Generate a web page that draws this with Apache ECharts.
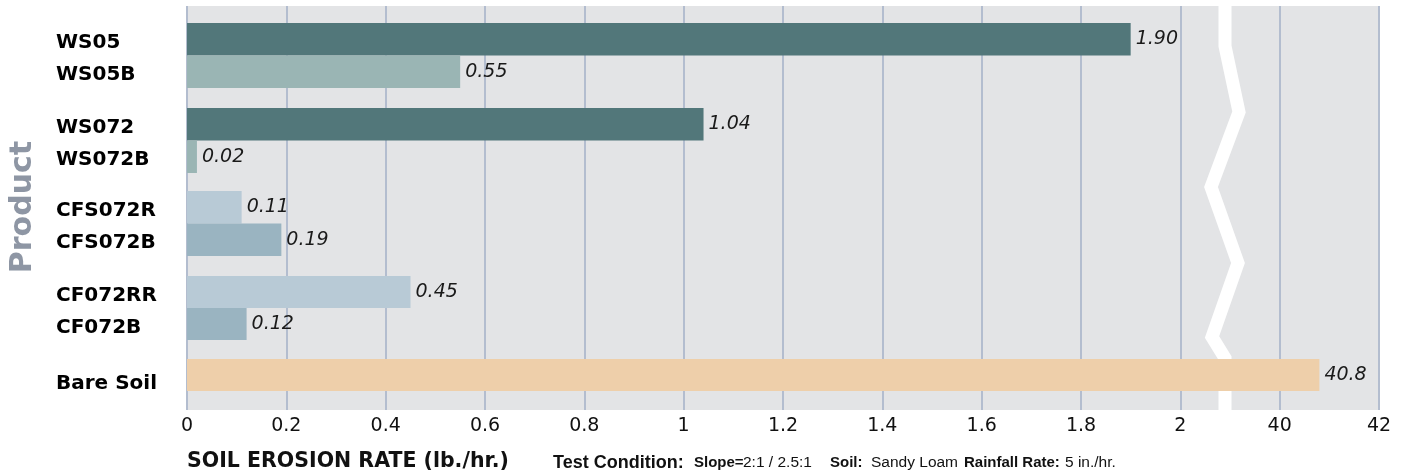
<!DOCTYPE html>
<html>
<head>
<meta charset="utf-8">
<script src="https://cdn.jsdelivr.net/npm/echarts@6/dist/echarts.min.js"></script>
<style>
  html, body { margin: 0; padding: 0; background: #ffffff; }
  #chart { width: 1405px; height: 472px; }
</style>
</head>
<body>
<div id="chart"></div>
<script>
// ---------------- DATA ----------------
const categories = ['WS05', 'WS05B', 'WS072', 'WS072B', 'CFS072R', 'CFS072B', 'CF072RR', 'CF072B', 'Bare Soil'];
const erosionRates = [1.90, 0.55, 1.04, 0.02, 0.11, 0.19, 0.45, 0.12, 40.8];
const groupIndex = [0, 0, 1, 1, 2, 2, 3, 3, 4];
const xTickLabels = ['0', '0.2', '0.4', '0.6', '0.8', '1', '1.2', '1.4', '1.6', '1.8', '2', '40', '42'];
const xAxisTitle = 'SOIL EROSION RATE (lb./hr.)';
const yAxisTitle = 'Product';
const testConditionParts = [
  ['Test Condition:', 'big'], ['Slope=', 'b'], ['2:1 / 2.5:1', 'n'], ['Soil:', 'b'],
  ['Sandy Loam', 'n'], ['Rainfall Rate:', 'b'], ['5 in./hr.', 'n']
];

// ---------------- STYLE ----------------
const barColors = ['#52777a', '#9ab5b4', '#52777a', '#9ab5b4', '#b8cad6', '#9ab4c1', '#b8cad6', '#9ab4c1', '#eecfaa'];
const groupLayout = [
  { top: 23, height: 65 },
  { top: 108, height: 65 },
  { top: 191, height: 65 },
  { top: 276, height: 64 },
  { top: 359, height: 32 }
];
const testConditionX = [553, 694, 743, 830, 871, 964, 1065];
const FONT = '"DejaVu Sans", Verdana, sans-serif';
const NARROW = '"Liberation Sans", Arial, sans-serif';
const PLOT_LEFT = 187, PLOT_RIGHT = 1405 - 1379, PLOT_TOP = 6, PLOT_BOTTOM = 472 - 410;
const partFont = {
  big: 'bold 18px ' + NARROW,
  b: 'bold 15px ' + NARROW,
  n: '15.5px ' + NARROW
};

// Broken axis: [0, 2] is linear, then the segment [40, 42] is drawn in place of [2.2, 2.4]
function toAxis(v) { return v <= 2 ? v : 2.2 + (v - 40) * 0.1; }
function fmtValue(v) { return v >= 10 ? v.toFixed(1) : v.toFixed(2); }

const grids = [{ left: PLOT_LEFT, right: PLOT_RIGHT, top: PLOT_TOP, bottom: PLOT_BOTTOM,
  containLabel: false, outerBoundsMode: 'none',
  show: true, backgroundColor: '#e3e4e6', borderWidth: 0 }];
const xAxes = [{
  gridIndex: 0, type: 'value', min: 0, max: 2.4, interval: 0.2,
  axisLine: { show: false }, axisTick: { show: false },
  splitLine: { show: true, lineStyle: { color: '#b3bdcf', width: 2 } },
  axisLabel: {
    color: '#111', fontSize: 19, fontFamily: FONT, margin: 7,
    formatter: (v, i) => xTickLabels[Math.round(v / 0.2)] ?? ''
  }
}];
const yAxes = [{ gridIndex: 0, type: 'value', show: false }];
const series = [];

groupLayout.forEach((g, gi) => {
  const idx = [];
  groupIndex.forEach((k, i) => { if (k === gi) idx.push(i); });
  grids.push({ left: PLOT_LEFT, right: PLOT_RIGHT, top: g.top, height: g.height, show: false,
    containLabel: false, outerBoundsMode: 'none' });
  xAxes.push({ gridIndex: gi + 1, type: 'value', min: 0, max: 2.4, show: false });
  yAxes.push({
    gridIndex: gi + 1, type: 'category', inverse: true,
    data: idx.map(i => categories[i]),
    axisLine: { show: false }, axisTick: { show: false }, splitLine: { show: false },
    axisLabel: {
      align: 'left', margin: PLOT_LEFT - 56,
      formatter: v => '{' + (gi === 4 ? 'low' : 'c') + '|' + v + '}',
      rich: {
        c: { color: '#000', fontWeight: 'bold', fontSize: 20, fontFamily: FONT, padding: [7, 0, 0, 0], align: 'left' },
        low: { color: '#000', fontWeight: 'bold', fontSize: 20, fontFamily: FONT, padding: [17, 0, 0, 0], align: 'left' }
      }
    }
  });
  series.push({
    type: 'bar', xAxisIndex: gi + 1, yAxisIndex: gi + 1,
    barWidth: '100%', barGap: '0%', z: 3,
    data: idx.map(i => ({
      value: toAxis(erosionRates[i]),
      raw: erosionRates[i],
      itemStyle: { color: barColors[i] }
    })),
    label: {
      show: true, position: 'right', distance: 5,
      fontStyle: 'italic', fontSize: 19, color: '#1a1a1a', fontFamily: FONT,
      formatter: p => fmtValue(p.data.raw)
    },
    animation: false
  });
});

// zig-zag break marker (decoration) between "2" and "40"
const zig = [[1225, 6], [1225, 46], [1239, 112], [1211, 187], [1238, 263], [1212, 337], [1225, 358], [1225, 410]];

const graphics = [
  {
    type: 'polyline', z: 1, silent: true,
    shape: { points: zig },
    style: { stroke: '#ffffff', lineWidth: 13, fill: null, lineJoin: 'miter' }
  },
  {
    type: 'text', z: 10, x: 23, y: 207, rotation: Math.PI / 2,
    style: { text: yAxisTitle, fill: '#8e96a4', font: 'bold 30px ' + FONT, align: 'center', verticalAlign: 'middle' }
  },
  {
    type: 'text', z: 10, x: 187, y: 462,
    style: { text: xAxisTitle, fill: '#111', font: 'bold 20.5px ' + FONT, align: 'left', verticalAlign: 'middle' }
  }
];
testConditionParts.forEach((p, i) => {
  graphics.push({
    type: 'text', z: 10, x: testConditionX[i], y: 463,
    style: { text: p[0], fill: '#111', font: partFont[p[1]], align: 'left', verticalAlign: 'middle' }
  });
});

const option = {
  animation: false,
  grid: grids,
  xAxis: xAxes,
  yAxis: yAxes,
  series: series,
  graphic: graphics
};

const chart = echarts.init(document.getElementById('chart'));
chart.setOption(option);
</script>
</body>
</html>
